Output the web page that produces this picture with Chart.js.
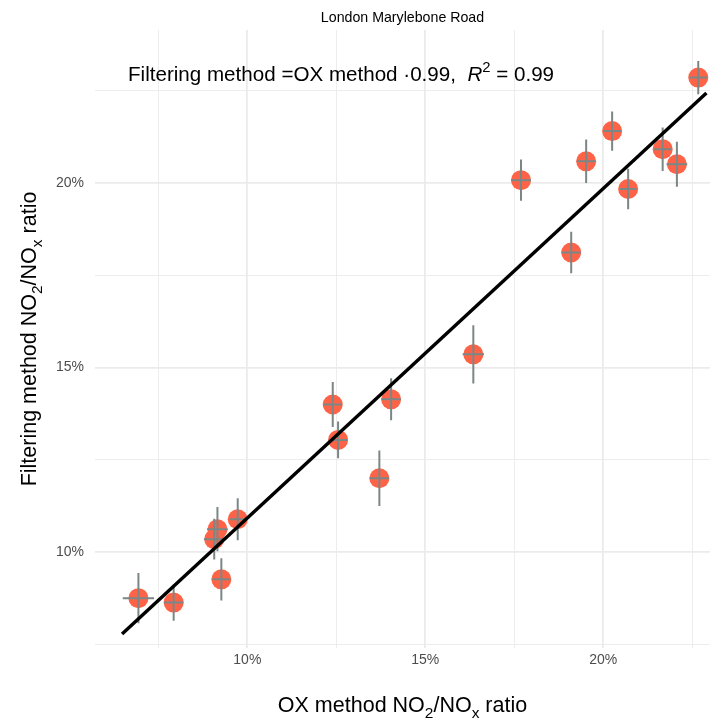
<!DOCTYPE html>
<html>
<head>
<meta charset="utf-8">
<script src="https://cdn.jsdelivr.net/npm/chart.js@4"></script>
<style>
  html, body { margin: 0; padding: 0; background: #fff; }
  #wrap { width: 724px; height: 722px; }
</style>
</head>
<body>
<div id="wrap"><canvas id="chart" width="724" height="722"></canvas></div>
<script>
'use strict';

// values in percent
const oxMethod = [6.94, 7.93, 9.07, 9.16, 9.27, 9.73, 12.40, 12.55, 13.71, 14.04, 16.35, 17.69, 19.10, 19.52, 20.25, 20.70, 21.67, 22.07, 22.67];
const filtering = [8.75, 8.63, 10.35, 10.62, 9.26, 10.89, 14.00, 13.04, 12.00, 14.14, 15.36, 20.08, 18.12, 20.59, 21.41, 19.84, 20.92, 20.51, 22.86];
const oxError = [0.44, 0.27, 0.29, 0.29, 0.25, 0.22, 0.26, 0.26, 0.27, 0.27, 0.30, 0.28, 0.27, 0.26, 0.25, 0.23, 0.24, 0.29, 0.24];
const filteringError = [0.68, 0.49, 0.55, 0.60, 0.57, 0.57, 0.61, 0.50, 0.75, 0.57, 0.79, 0.56, 0.56, 0.59, 0.53, 0.55, 0.59, 0.61, 0.45];
const fitX = [6.48, 22.90];
const fitY = [7.78, 22.44];
const xTicks = [7.5, 10, 12.5, 15, 17.5, 20, 22.5];
const yTicks = [7.5, 10, 12.5, 15, 17.5, 20, 22.5];
const majorTicks = [10, 15, 20];

const FONT = '"Liberation Sans", Arial, Helvetica, sans-serif';

const points = oxMethod.map((x, i) => ({ x: x, y: filtering[i] }));
const fitLine = fitX.map((x, i) => ({ x: x, y: fitY[i] }));

const isMajor = v => majorTicks.includes(v);

const gridOpts = {
  drawTicks: false,
  color: '#ebebeb',
  lineWidth: ctx => (ctx.tick && isMajor(ctx.tick.value) ? 1.8 : 0.9),
};

// error bars between points and the fitted line
const errorBars = {
  id: 'errorBars',
  afterDatasetDraw(chart, args) {
    if (args.index !== 0) return;
    const { ctx, scales: { x, y } } = chart;
    ctx.save();
    ctx.strokeStyle = '#7b8787';
    ctx.lineWidth = 2;
    points.forEach((p, i) => {
      const px = x.getPixelForValue(p.x);
      const py = y.getPixelForValue(p.y);
      ctx.beginPath();
      ctx.moveTo(px, y.getPixelForValue(p.y - filteringError[i]));
      ctx.lineTo(px, y.getPixelForValue(p.y + filteringError[i]));
      ctx.moveTo(x.getPixelForValue(p.x - oxError[i]), py);
      ctx.lineTo(x.getPixelForValue(p.x + oxError[i]), py);
      ctx.stroke();
    });
    ctx.restore();
  }
};

// draws text pieces: {t, sub, sup, italic}
function drawRich(ctx, parts, size, x, y, align) {
  const widths = parts.map(p => {
    const s = (p.sub || p.sup) ? size * 0.72 : size;
    ctx.font = (p.italic ? 'italic ' : '') + s + 'px ' + FONT;
    return ctx.measureText(p.t).width;
  });
  const total = widths.reduce((a, b) => a + b, 0);
  let cx = align === 'center' ? x - total / 2 : x;
  parts.forEach((p, i) => {
    const s = (p.sub || p.sup) ? size * 0.72 : size;
    ctx.font = (p.italic ? 'italic ' : '') + s + 'px ' + FONT;
    let dy = 0;
    if (p.sub) dy = size * 0.28;
    if (p.sup) dy = -size * 0.45;
    ctx.fillText(p.t, cx, y + dy);
    cx += widths[i];
  });
}

const labels = {
  id: 'labels',
  afterDraw(chart) {
    const { ctx, chartArea } = chart;
    const midX = (chartArea.left + chartArea.right) / 2;
    const midY = (chartArea.top + chartArea.bottom) / 2;
    ctx.save();
    ctx.fillStyle = '#000';
    ctx.textBaseline = 'alphabetic';
    ctx.textAlign = 'left';

    ctx.font = '14.2px ' + FONT;
    ctx.textAlign = 'center';
    ctx.fillText('London Marylebone Road', midX, 22);
    ctx.textAlign = 'left';

    drawRich(ctx, [
      { t: 'Filtering method =OX method \u00b70.99,  ' },
      { t: 'R', italic: true },
      { t: '2', sup: true },
      { t: ' = 0.99' }
    ], 20.6, 128, 81);

    const axisTitle = [
      { t: 'OX method NO' }, { t: '2', sub: true }, { t: '/NO' }, { t: 'x', sub: true }, { t: ' ratio' }
    ];
    drawRich(ctx, axisTitle, 21.5, midX, 712, 'center');

    ctx.translate(36, midY);
    ctx.rotate(-Math.PI / 2);
    drawRich(ctx, [
      { t: 'Filtering method NO' }, { t: '2', sub: true }, { t: '/NO' }, { t: 'x', sub: true }, { t: ' ratio' }
    ], 21.5, 0, 0, 'center');
    ctx.restore();
  }
};

const chart = new Chart(document.getElementById('chart'), {
  type: 'scatter',
  data: {
    datasets: [
      {
        label: 'Stations',
        data: points,
        backgroundColor: '#ff6347',
        borderWidth: 0,
        pointRadius: 10,
        pointHoverRadius: 10,
        order: 1
      },
      {
        type: 'line',
        label: 'Fit',
        data: fitLine,
        borderColor: '#000',
        borderWidth: 3.4,
        pointRadius: 0,
        fill: false,
        order: 0
      }
    ]
  },
  options: {
    responsive: false,
    animation: false,
    layout: { padding: { top: 30, right: 14, left: 0, bottom: 0 } },
    plugins: {
      legend: { display: false },
      tooltip: { enabled: false }
    },
    scales: {
      x: {
        type: 'linear',
        min: 5.72,
        max: 23.0,
        border: { display: false },
        grid: gridOpts,
        afterBuildTicks: s => { s.ticks = xTicks.map(v => ({ value: v })); },
        afterFit: s => { s.height = 74; },
        ticks: {
          padding: 4,
          color: '#4d4d4d',
          font: { family: FONT, size: 14 },
          maxRotation: 0,
          autoSkip: false,
          callback: v => (isMajor(v) ? v + '%' : '')
        }
      },
      y: {
        type: 'linear',
        min: 7.4,
        max: 24.15,
        border: { display: false },
        grid: gridOpts,
        afterBuildTicks: s => { s.ticks = yTicks.map(v => ({ value: v })); },
        afterFit: s => { s.width = 95; },
        ticks: {
          padding: 11,
          color: '#4d4d4d',
          font: { family: FONT, size: 14 },
          autoSkip: false,
          callback: v => (isMajor(v) ? v + '%' : '')
        }
      }
    }
  },
  plugins: [errorBars, labels]
});
</script>
</body>
</html>
